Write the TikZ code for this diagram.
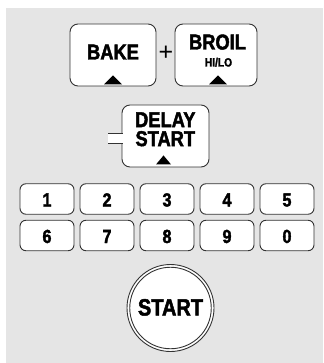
\documentclass[tikz,border=0pt]{standalone}
\usepackage{fontspec}
\newfontfamily\keyfont[FakeStretch=0.85,FakeBold=2]{Liberation Sans}
\newfontfamily\plusfont{Liberation Sans}
\tikzset{
  panel/.style={fill=gray!20},
  button/.style={draw=black!80,line width=0.9pt,fill=white,rounded corners=8pt,inner sep=0pt},
  numkey/.style={button,rounded corners=6pt,minimum width=54pt,minimum height=30.5pt},
  lbl/.style={anchor=base,inner sep=0pt,font=\keyfont\bfseries\fontsize{21.5}{21.5}\selectfont},
  small/.style={lbl,font=\keyfont\bfseries\fontsize{12}{12}\selectfont},
  digit/.style={lbl,font=\keyfont\bfseries\fontsize{19}{19}\selectfont},
  arrowup/.style={fill=black}
}
\begin{document}
\begin{tikzpicture}[x=1pt,y=-1pt]
  \useasboundingbox (0,0) rectangle (323,363);
  \fill[white] (0,0) rectangle (323,363);
  \fill[panel] (6,8) rectangle (323,363);

  % bake + broil
  \node[button,minimum width=86pt,minimum height=62pt] (bake) at (113,55) {};
  \node[button,minimum width=82pt,minimum height=62pt] (broil) at (216,55) {};
  \node[lbl] (bakeT) at (113,59.5) {BAKE};
  \node[anchor=base,inner sep=0pt,font=\plusfont\fontsize{25}{25}\selectfont] (plus) at (166,60.8) {+};
  \node[lbl] (broilT) at (217.5,49.5) {BROIL};
  \node[small] (hilo) at (218.5,66.5) {HI/LO};
  \fill[arrowup] (bake.south) ++(-9,-2) -- ++(18,0) -- ++(-9,-9) -- cycle;
  \fill[arrowup] ([xshift=2]broil.south) ++(-9,-2) -- ++(18,0) -- ++(-9,-9) -- cycle;

  % delay start, with its tab on the left
  \node[button,minimum width=87pt,minimum height=62pt] (delay) at (165.5,136) {};
  \fill[white] (108,133.5) rectangle (124,143.5);
  \draw[black!80,line width=0.9pt] (108,133.5) -- (122.5,133.5);
  \draw[black!80,line width=0.9pt] (108,143.5) -- (122.5,143.5);
  \node[lbl,anchor=center,align=center,font=\keyfont\bfseries\fontsize{21.5}{19}\selectfont] (delayT) at (165.3,129.3) {DELAY\\START};
  \fill[arrowup] ([xshift=-2]delay.south) ++(-7.5,-3) -- ++(15,0) -- ++(-7.5,-9) -- cycle;

  % number keys
  \foreach \n [count=\i from 0] in {1,2,3,4,5} {
    \node[numkey] (k\n) at (47+60*\i,199) {};
    \node[digit] at (47+60*\i,206.5) {\n};
  }
  \foreach \n [count=\i from 0] in {6,7,8,9,0} {
    \node[numkey] (k\n) at (47+60*\i,235.5) {};
    \node[digit] at (47+60*\i,243) {\n};
  }

  % start
  \node[draw=black!80,line width=0.9pt,fill=white,circle,minimum size=87pt,inner sep=0pt] (start) at (170.5,308) {};
  \node[draw=black!80,line width=0.9pt,circle,minimum size=81.5pt,inner sep=0pt] (startIn) at (start.center) {};
  \node[lbl,font=\keyfont\bfseries\fontsize{23.5}{23.5}\selectfont] (startBig) at (170.5,315.5) {START};
\end{tikzpicture}
\end{document}
